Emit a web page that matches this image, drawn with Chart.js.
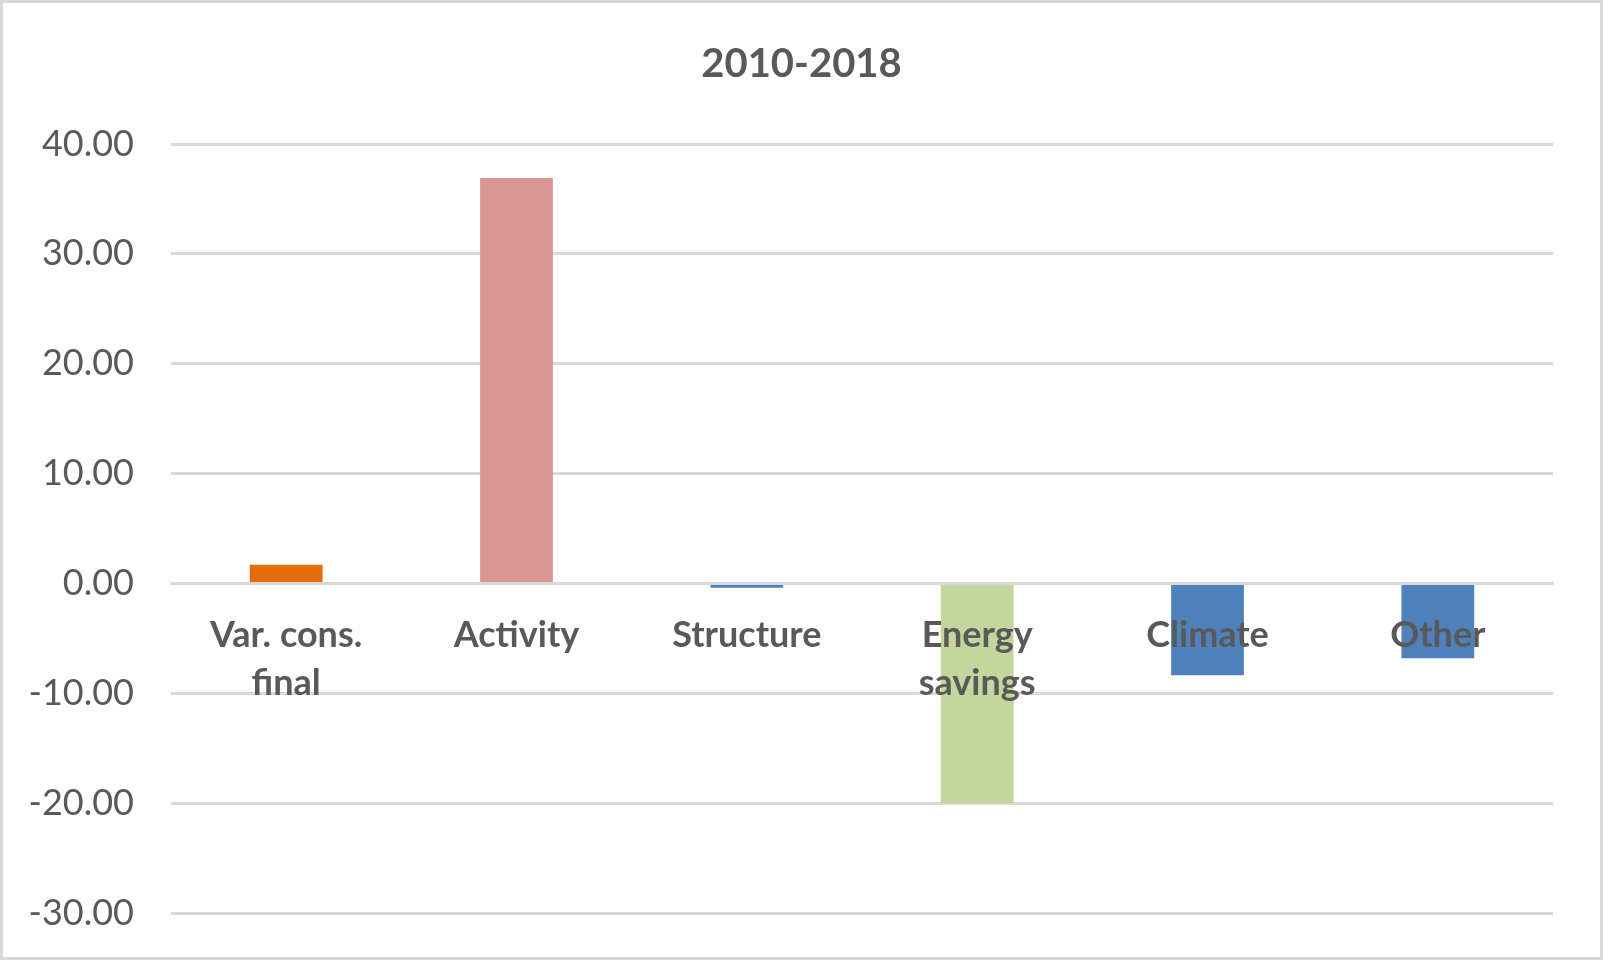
<!DOCTYPE html>
<html>
<head>
<meta charset="utf-8">
<title>2010-2018</title>
<script src="https://cdn.jsdelivr.net/npm/chart.js@4/dist/chart.umd.min.js"></script>
<style>
    body { margin: 0; background: #fff; }
    canvas { display: block; }
</style>
</head>
<body>
<canvas id="decompChart" width="1603" height="960"></canvas>
<script>
// Categorias e valores da decomposição 2010-2018
const categories = [['Var. cons.', 'final'], 'Activity', 'Structure', ['Energy', 'savings'], 'Climate', 'Other'];
const values = [1.7, 36.9, -0.4, -20.0, -8.35, -6.8];
const barColors = ['#E46C0A', '#D99694', '#4F81BD', '#C3D69B', '#4F81BD', '#4F81BD'];
const yTicks = [40, 30, 20, 10, 0, -10, -20, -30];

const gridColor = '#D9D9D9';
const textColor = '#595959';

// Fundo branco, moldura cinza e título centrado na largura toda
const framePlugin = {
    id: 'frame',
    afterLayout(chart) {
        const t = chart.titleBlock;
        if (t) {
            t.left = 0;
            t.right = chart.width;
            t.width = chart.width;
        }
    },
    beforeDraw(chart) {
        const ctx = chart.ctx;
        ctx.save();
        ctx.fillStyle = '#fff';
        ctx.fillRect(0, 0, chart.width, chart.height);
        ctx.strokeStyle = gridColor;
        ctx.lineWidth = 3;
        ctx.strokeRect(1.5, 1.5, chart.width - 3, chart.height - 3);
        ctx.restore();
    }
};

function initChart() {
    const ctx = document.getElementById('decompChart').getContext('2d');
    new Chart(ctx, {
        type: 'bar',
        data: {
            labels: categories,
            datasets: [{
                data: values,
                backgroundColor: barColors,
                borderWidth: 0,
                barPercentage: 0.316,
                categoryPercentage: 1
            }]
        },
        options: {
            responsive: false,
            animation: false,
            layout: {
                padding: { top: 0, left: 30, right: 50, bottom: 47 }
            },
            plugins: {
                legend: { display: false },
                tooltip: { enabled: false },
                title: {
                    display: true,
                    text: '2010-2018',
                    color: textColor,
                    font: { family: 'Lato', size: 40, weight: 'bold', lineHeight: 1.2 },
                    padding: { top: 40, bottom: 56 }
                }
            },
            scales: {
                x: {
                    // eixo das categorias colado no zero, por cima das barras
                    position: { y: 0 },
                    grid: { display: false },
                    border: { display: true, color: gridColor, width: 3, z: 1 },
                    ticks: {
                        z: 1,
                        color: textColor,
                        font: { family: 'Lato', size: 36, weight: 'bold', lineHeight: 1.33 },
                        padding: 20,
                        maxRotation: 0,
                        autoSkip: false
                    }
                },
                y: {
                    min: -30,
                    max: 40,
                    afterFit(scale) {
                        scale.width = 141;
                        scale.paddingTop = 0;
                        scale.paddingBottom = 0;
                    },
                    afterBuildTicks(scale) { scale.ticks = yTicks.map(v => ({ value: v })); },
                    grid: { color: gridColor, lineWidth: 3, drawTicks: false },
                    border: { display: false },
                    ticks: {
                        color: textColor,
                        padding: 37,
                        font: { family: 'Lato', size: 36 },
                        callback: function(value) {
                            return value.toFixed(2);
                        }
                    }
                }
            }
        },
        plugins: [framePlugin]
    });
}

document.addEventListener('DOMContentLoaded', initChart);
</script>
</body>
</html>
